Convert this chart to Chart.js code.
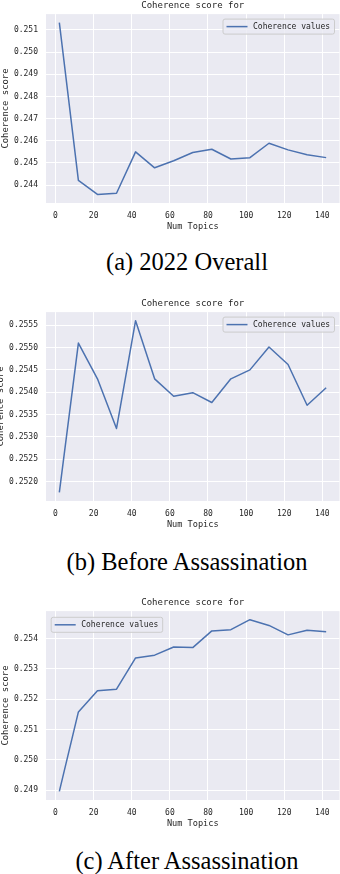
<!DOCTYPE html>
<html><head><meta charset="utf-8">
<script src="https://cdn.jsdelivr.net/npm/chart.js@4/dist/chart.umd.min.js"></script>
<style>
html,body{margin:0;padding:0;background:#fff}
body{width:340px;height:874px;position:relative;overflow:hidden}
.c{position:absolute;left:0;width:340px;height:232px}
.cap{position:absolute;left:17px;width:340px;text-align:center;font-family:"Liberation Serif","Times New Roman",serif;font-size:24.5px;color:#000;line-height:28px;white-space:nowrap}
</style></head><body>
<div class="c" style="top:0"><canvas id="c1" width="340" height="232"></canvas></div>
<div class="cap" style="top:248px">(a) 2022 Overall</div>
<div class="c" style="top:298px"><canvas id="c2" width="340" height="232"></canvas></div>
<div class="cap" style="top:548px">(b) Before Assassination</div>
<div class="c" style="top:597px"><canvas id="c3" width="340" height="232"></canvas></div>
<div class="cap" style="top:847px">(c) After Assassination</div>
<script>
// ---- data ----
const topics = [2, 12, 22, 32, 42, 52, 62, 72, 82, 92, 102, 112, 122, 132, 142];
const overall = [0.25133, 0.24421, 0.24358, 0.24363, 0.24550, 0.24478, 0.24510, 0.24547, 0.24562, 0.24518, 0.24524, 0.24589, 0.24559, 0.24537, 0.24524];
const before  = [0.25176, 0.25510, 0.25430, 0.25319, 0.25560, 0.25430, 0.25391, 0.25399, 0.25377, 0.25430, 0.25450, 0.25501, 0.25462, 0.25371, 0.25410];
const after   = [0.24896, 0.25158, 0.25228, 0.25233, 0.25336, 0.25345, 0.25372, 0.25370, 0.25425, 0.25429, 0.25462, 0.25443, 0.25412, 0.25427, 0.25422];
const xTicks = [0, 20, 40, 60, 80, 100, 120, 140];
const yTicksA = [0.244, 0.245, 0.246, 0.247, 0.248, 0.249, 0.250, 0.251];
const yTicksB = [0.2520, 0.2525, 0.2530, 0.2535, 0.2540, 0.2545, 0.2550, 0.2555];
const yTicksC = [0.249, 0.250, 0.251, 0.252, 0.253, 0.254];
const chartTitle = "Coherence score for";
const seriesLabel = "Coherence values";
const xTitle = "Num Topics";
const yTitle = "Coherence score";

const MONO = '"DejaVu Sans Mono", monospace';
const TXT = '#262626';
Chart.defaults.color = TXT;

function limits(arr) {
  const mn = Math.min(...arr), mx = Math.max(...arr), m = (mx - mn) * 0.05;
  return [mn - m, mx + m];
}

const bgPlugin = {
  id: 'bg',
  beforeDraw(chart) {
    const {ctx, chartArea: a} = chart;
    ctx.save();
    ctx.fillStyle = '#EAEAF2';
    ctx.fillRect(a.left, a.top, a.right - a.left, a.bottom - a.top);
    ctx.restore();
  }
};

const legendPlugin = {
  id: 'inlegend',
  afterDatasetsDraw(chart, args, opts) {
    const {ctx, chartArea: a} = chart;
    const w = 111.5, h = 15;
    const x = opts.side === 'left' ? a.left + 4.7 : a.right - 5.5 - w;
    const y = opts.side === 'left' ? a.top + 5.7 : a.top + 4.5;
    ctx.save();
    ctx.beginPath();
    if (ctx.roundRect) ctx.roundRect(x + 0.5, y + 0.5, w, h, 2); else ctx.rect(x + 0.5, y + 0.5, w, h);
    ctx.fillStyle = 'rgba(234,234,242,0.8)';
    ctx.fill();
    ctx.strokeStyle = '#CCCCCC';
    ctx.lineWidth = 1;
    ctx.stroke();
    const cy = y + h / 2 + 0.5;
    ctx.beginPath();
    ctx.moveTo(x + 4, cy);
    ctx.lineTo(x + 25, cy);
    ctx.strokeStyle = '#4C72B0';
    ctx.lineWidth = 1.5;
    ctx.stroke();
    ctx.fillStyle = TXT;
    ctx.font = '8px ' + MONO;
    ctx.textBaseline = 'middle';
    ctx.textAlign = 'left';
    ctx.fillText(chart.data.datasets[0].label, x + 30.5, cy);
    ctx.restore();
  }
};

function makeChart(id, values, yTicks, dec, legendSide, yTitlePad) {
  const [ymin, ymax] = limits(values);
  const [xmin, xmax] = limits(topics);
  return new Chart(document.getElementById(id), {
    type: 'line',
    data: {
      datasets: [{
        label: seriesLabel,
        data: topics.map((t, i) => ({x: t, y: values[i]})),
        borderColor: '#4C72B0',
        backgroundColor: '#4C72B0',
        borderWidth: 1.5,
        pointRadius: 0,
        tension: 0,
        fill: false,
        borderJoinStyle: 'round'
      }]
    },
    options: {
      responsive: false,
      animation: false,
      devicePixelRatio: 1,
      layout: {padding: {left: 0, right: 0.5, top: 0, bottom: 0}},
      plugins: {
        legend: {display: false},
        tooltip: {enabled: false},
        title: {
          display: true, text: chartTitle, color: TXT, fullSize: false,
          font: {family: MONO, size: 9, weight: 'normal'},
          padding: {top: 0.5, bottom: 2.8}
        },
        inlegend: {side: legendSide}
      },
      scales: {
        x: {
          type: 'linear', min: xmin, max: xmax,
          afterBuildTicks: s => { s.ticks = xTicks.map(v => ({value: v})); },
          afterFit: s => { s.height = 29; },
          grid: {color: '#FFFFFF', lineWidth: 1, drawTicks: false},
          border: {display: false},
          ticks: {font: {family: MONO, size: 8}, color: TXT, padding: 8.5, maxRotation: 0, includeBounds: false,
                  callback: v => String(v)},
          title: {display: true, text: xTitle, color: TXT, font: {family: MONO, size: 8.6}, padding: {top: 1, bottom: 0}}
        },
        y: {
          type: 'linear', min: ymin, max: ymax,
          afterBuildTicks: s => { s.ticks = yTicks.map(v => ({value: v})); },
          afterFit: s => { s.width = 46; },
          grid: {color: '#FFFFFF', lineWidth: 1, drawTicks: false},
          border: {display: false},
          ticks: {font: {family: MONO, size: 8}, color: TXT, padding: 8, includeBounds: false,
                  callback: v => Number(v).toFixed(dec)},
          title: {display: true, text: yTitle, color: TXT, font: {family: MONO, size: 8.9}, padding: {top: yTitlePad, bottom: 0}}
        }
      }
    },
    plugins: [bgPlugin, legendPlugin]
  });
}

makeChart('c1', overall, yTicksA, 3, 'right', 0);
makeChart('c2', before, yTicksB, 4, 'right', -4.5);
makeChart('c3', after, yTicksC, 3, 'left', 0);
</script>
</body></html>
